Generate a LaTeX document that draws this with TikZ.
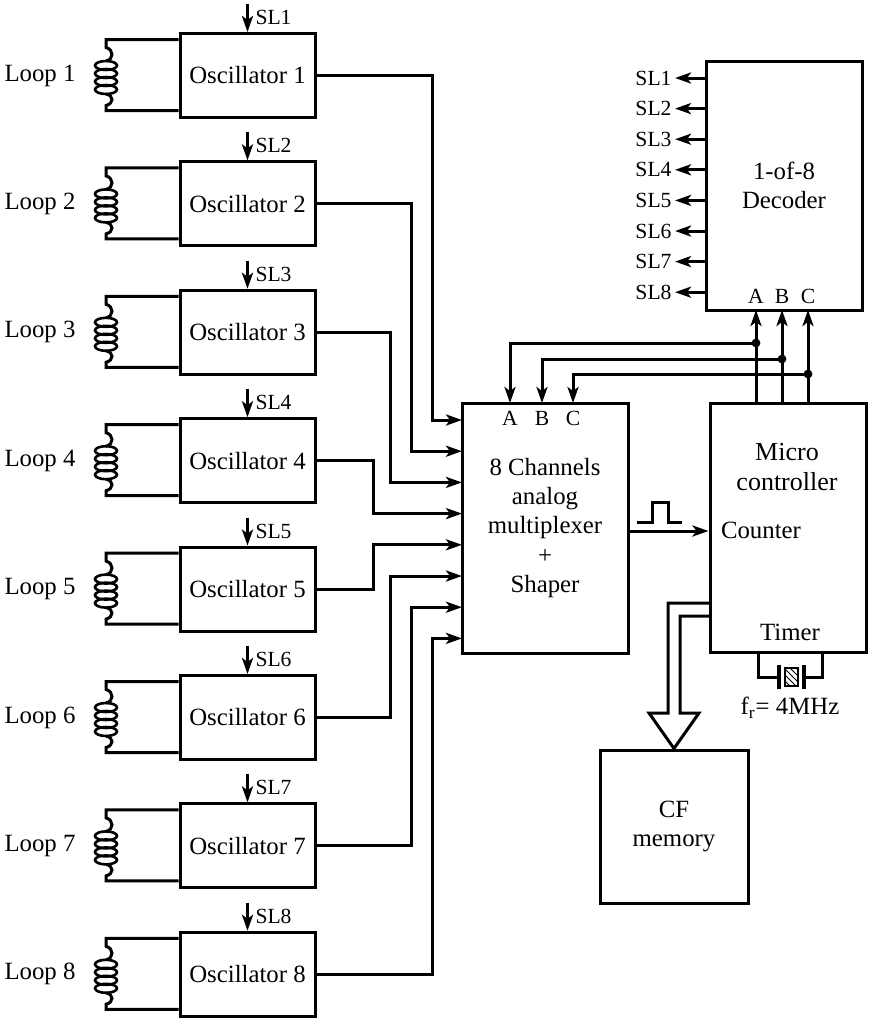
\documentclass[tikz,border=0pt]{standalone}
\usepackage{fontspec}
\setmainfont{Liberation Serif}
\usetikzlibrary{arrows.meta,positioning,calc,patterns}
\tikzset{font=\fontsize{12.4}{14.6}\selectfont}
\tikzset{>={Stealth[length=8pt,width=5.5pt,inset=2pt]}}
\tikzset{blk/.style={draw,line width=1.5pt,inner sep=0pt,align=center}}
\tikzset{lbl/.style={font=\fontsize{10.8}{12}\selectfont,inner sep=1pt}}

\begin{document}
\begin{tikzpicture}[x=0.5pt,y=-0.5pt,line width=1.5pt]
  \useasboundingbox (0,0) rectangle (872,1024);

  % loops and oscillators
  \foreach \i in {1,...,8}
  {
    \pgfmathsetmacro{\yc}{75.5+128.4*(\i-1)}
    \node[blk,minimum width=67.5pt,minimum height=42pt] (osc\i) at (247.5,\yc) {Oscillator \i};
    \node (loop\i) at (40,\yc) {Loop \i};
    \draw[->] ($(osc\i.north)+(0,-28)$) -- (osc\i.north);
    \node[lbl,anchor=west] (sel\i) at (252,{\yc-58}) {SL\i};
    \draw ($(osc\i.west)+(0,-36)$) -- (106,{\yc-36}) -- (106,{\yc-28})
      .. controls (114,{\yc-26}) and (114,{\yc-16}) .. (106,{\yc-14.5});
    \foreach \k in {0,...,3}
      \draw[line width=1.3pt] (106,{\yc-10+8*\k}) ellipse [x radius=11,y radius=4.5];
    \draw (106,{\yc+18.5}) .. controls (114,{\yc+20}) and (114,{\yc+28}) .. (106,{\yc+30})
      -- (106,{\yc+35}) -- ($(osc\i.west)+(0,35)$);
  }

  \node[blk,minimum width=83pt,minimum height=125pt] (mux) at (545,528) {8 Channels\\analog\\multiplexer\\+\\Shaper};

  \foreach \i/\xv in {1/432,2/411,3/390,4/373,5/373,6/390,7/411,8/432}
  {
    \pgfmathsetmacro{\yin}{420+31.2*(\i-1)}
    \coordinate (in\i) at (462,\yin);
    \draw[->] (osc\i.east) -| (\xv,\yin) -- (in\i);
  }

  % decoder
  \node[blk,minimum width=78pt,minimum height=124.5pt] (dec) at (784,185.5) {1-of-8\\Decoder};
  \foreach \i in {1,...,8}
  {
    \pgfmathsetmacro{\ys}{78+30.6*(\i-1)}
    \coordinate (out\i) at (706,\ys);
    \draw[->] (out\i) -- ++(-31,0) node[lbl,left] (dsl\i) {SL\i};
  }

  % micro controller
  \node[blk,minimum width=78pt,minimum height=124.5pt] (mcu) at (788,527.5) {};
  \node[align=center,font=\fontsize{13}{14.8}\selectfont] (mcutxt) at (787,467) {Micro\\controller};
  \node (cnt) at (761,530) {Counter};
  \node (tmr) at (790,632) {Timer};

  \foreach \l/\xd/\yj/\xm in {A/756/343/510,B/782/359/542,C/808/374/573}
  {
    \coordinate (up\l) at (\xd,403);
    \coordinate (dn\l) at (\xd,310);
    \coordinate (j\l) at (\xd,\yj);
    \coordinate (mx\l) at (\xm,403);
    \draw[->] (up\l) -- (dn\l);
    \draw[->] (j\l) -| (mx\l);
    \fill (j\l) circle (2.2pt);
    \node[lbl] (dl\l) at (\xd,296) {\l};
    \node[lbl] (ml\l) at (\xm,418) {\l};
  }

  % pulse
  \coordinate (pout) at (628,531);
  \draw[->] (pout) -- (mcu.west |- pout);
  \draw (637,522) -- (652,522) -- (652,502) -- (668,502) -- (668,522) -- (682,522);

  % CF memory
  \node[blk,minimum width=74pt,minimum height=76.5pt] (cf) at (674,826.5) {CF\\memory};
  \draw (710,603) -- (668,603) -- (668,713) -- (649,713) -- (cf.north) -- (699,713) -- (680,713) -- (680,616) -- (710,616);

  % crystal
  \draw (758,652) -- (758,677) -- (779,677);
  \draw (822,652) -- (822,677) -- (804,677);
  \draw[line width=2pt] (779,665) -- (779,689);
  \draw[line width=2pt] (804,665) -- (804,689);
  \draw[pattern=north west lines,line width=1pt] (785,668) rectangle (798,686);
  \node (xtal) at (790,708) {f\textsubscript{r}= 4MHz};
\end{tikzpicture}
\end{document}
